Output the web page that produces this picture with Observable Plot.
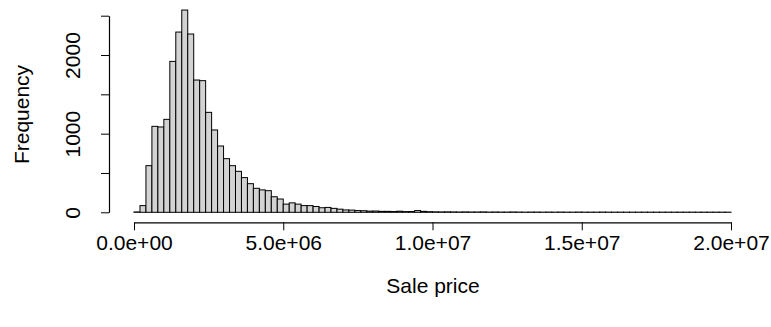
<!DOCTYPE html>
<html>
<head>
<meta charset="utf-8">
<script src="https://cdn.jsdelivr.net/npm/d3@7"></script>
<script src="https://cdn.jsdelivr.net/npm/@observablehq/plot@0.6"></script>
<style>
  html, body { margin: 0; padding: 0; background: #fff; }
  svg { display: block; }
</style>
</head>
<body>
<div id="chart"></div>
<script>
// Histogram bins: width 200,000, from 0 to 20,000,000
const binWidth = 200000;
const counts = [
  5, 85, 593, 1093, 1085, 1182, 1919, 2292, 2572, 2267,
  1682, 1674, 1271, 1047, 843, 682, 593, 521, 441, 364,
  305, 285, 275, 198, 169, 104, 120, 104, 85, 85,
  74, 58, 62, 50, 40, 30, 28, 22, 20, 15,
  16, 12, 12, 10, 14, 9, 10, 22, 12, 8,
  6, 5, 6, 5, 4, 5, 4, 4, 5, 3,
  4, 3, 3, 4, 3, 2, 3, 3, 2, 3,
  2, 3, 2, 2, 3, 2, 2, 2, 3, 2,
  2, 2, 2, 2, 2, 2, 2, 2, 2, 2,
  2, 2, 2, 2, 2, 2, 2, 2, 2, 2
];
const xTicks = [0, 5e6, 1e7, 1.5e7, 2e7];
const xTickLabels = ["0.0e+00", "5.0e+06", "1.0e+07", "1.5e+07", "2.0e+07"];
const yTicks = [0, 500, 1000, 1500, 2000, 2500];
const yTickLabels = [0, 1000, 2000];

const bins = counts.map((c, i) => ({x1: i * binWidth, x2: (i + 1) * binWidth, count: c}));
const xAxisLine = [{x1: xTicks[0], x2: xTicks[xTicks.length - 1], y1: 0, y2: 0}];
const yAxisLine = [{x1: 0, x2: 0, y1: yTicks[0], y2: yTicks[yTicks.length - 1]}];

const font = "Liberation Sans, Arial, Helvetica, sans-serif";
const fs = 21;

const chart = Plot.plot({
  width: 771,
  height: 327,
  marginLeft: 134,
  marginRight: 40,
  marginTop: 15.7,
  marginBottom: 114.7,
  style: {fontFamily: font, fontSize: fs + "px", color: "#000", background: "#fff"},
  x: {domain: [0, 2e7]},
  y: {domain: [0, 2500]},
  marks: [
    Plot.rectY(bins, {x1: "x1", x2: "x2", y: "count", fill: "#d3d3d3", stroke: "#000", strokeWidth: 1, inset: 0}),
    // detached x axis (R style)
    Plot.link(xAxisLine, {x1: "x1", x2: "x2", y1: "y1", y2: "y2", dy: 10, stroke: "#000", strokeWidth: 1.2}),
    Plot.axisX({ticks: xTicks, tickSize: 8, dy: 10, tickPadding: 4, tickFormat: (d) => xTickLabels[xTicks.indexOf(d)], label: null, fontSize: fs}),
    Plot.text(["Sale price"], {frameAnchor: "bottom", dy: 73, text: d => d, fontSize: fs, lineAnchor: "middle"}),
    // detached y axis (R style)
    Plot.link(yAxisLine, {x1: "x1", x2: "x2", y1: "y1", y2: "y2", dx: -25, stroke: "#000", strokeWidth: 1.2}),
    Plot.axisY({ticks: yTicks, tickSize: 8, dx: -25, tickFormat: () => "", label: null}),
    Plot.text(yTickLabels, {x: 0, y: d => d, text: d => String(d), rotate: -90, dx: -61, textAnchor: "middle", lineAnchor: "middle", fontSize: fs}),
    Plot.text(["Frequency"], {frameAnchor: "left", dx: -112, text: d => d, rotate: -90, textAnchor: "middle", lineAnchor: "middle", fontSize: fs})
  ]
});
document.getElementById("chart").appendChild(chart);
</script>
</body>
</html>
